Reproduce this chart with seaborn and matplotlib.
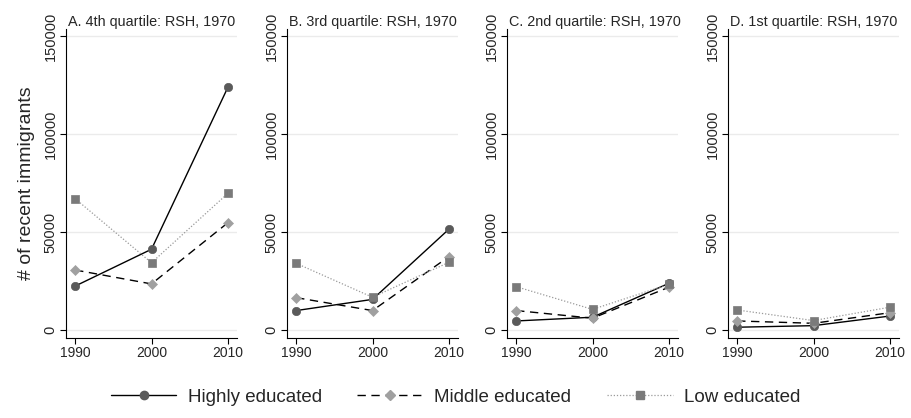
import matplotlib
matplotlib.use("Agg")
import matplotlib.pyplot as plt
import seaborn as sns
import pandas as pd
from matplotlib.lines import Line2D

sns.set_theme(style="white")
plt.rcParams['font.family'] = ['Liberation Sans', 'DejaVu Sans']

years = [1990, 2000, 2010]
panel_titles = ["A. 4th quartile: RSH, 1970", "B. 3rd quartile: RSH, 1970",
                "C. 2nd quartile: RSH, 1970", "D. 1st quartile: RSH, 1970"]
series_names = ["Highly educated", "Middle educated", "Low educated"]

highly = [[22400, 41200, 123800], [9900, 15600, 51400], [4600, 6500, 23800], [1400, 2200, 7100]]
middle = [[30600, 23500, 54700], [16500, 9900, 37400], [9900, 6000, 21800], [4600, 3400, 8800]]
low = [[67000, 34300, 69700], [34000, 16700, 34500], [22100, 10500, 23300], [10200, 4800, 11600]]

yticks = [0, 50000, 100000, 150000]
ytick_labels = ["0", "50000", "100000", "150000"]

styles = {
    "Highly educated": dict(color="black", linestyle="-", marker="o", mfc="#5a5a5a", mec="#5a5a5a", ms=6, lw=1.0),
    "Middle educated": dict(color="black", linestyle=(0, (6, 4)), marker="D", mfc="#a0a0a0", mec="#a0a0a0", ms=5.5, lw=1.0),
    "Low educated": dict(color="#9a9a9a", linestyle=(0, (1, 1.5)), marker="s", mfc="#7a7a7a", mec="#7a7a7a", ms=6, lw=0.9),
}

fig = plt.figure(figsize=(9.11, 4.18), dpi=100)
lefts = [66, 287, 507, 728]
W = 171 / 911
bottom = (418 - 338) / 418
height = (338 - 29) / 418

for i, left in enumerate(lefts):
    ax = fig.add_axes([left / 911, bottom, W, height])
    for name, vals in zip(series_names, [highly[i], middle[i], low[i]]):
        st = styles[name]
        df = pd.DataFrame({"year": years, "value": vals})
        sns.lineplot(data=df, x="year", y="value", ax=ax, color=st["color"],
                     linestyle=st["linestyle"], lw=st["lw"], marker=st["marker"],
                     markerfacecolor=st["mfc"], markeredgecolor=st["mec"],
                     markersize=st["ms"], markeredgewidth=0.5, legend=False)
    ax.set_xlim(1988.8, 2011.2)
    ax.set_ylim(-4100, 153600)
    ax.set_yticks(yticks)
    ax.set_yticklabels(ytick_labels, rotation=90, va="center", fontsize=10.5)
    ax.set_xticks(years)
    ax.set_xticklabels([str(y) for y in years], fontsize=10)
    for yv in yticks:
        ax.axhline(yv, color="#ebebeb", lw=1.0, zorder=0)
    ax.grid(False)
    for s in ["top", "right"]:
        ax.spines[s].set_visible(False)
    for s in ["left", "bottom"]:
        ax.spines[s].set_color("black")
        ax.spines[s].set_linewidth(0.8)
    ax.tick_params(axis="both", direction="out", length=4, width=0.8, color="black", pad=2, left=True, bottom=True)
    ax.set_xlabel("")
    ax.set_ylabel("# of recent immigrants" if i == 0 else "", fontsize=14, labelpad=6)
    ax.set_title(panel_titles[i], loc="left", fontsize=10.4, pad=2, x=0.01)
    ax.patch.set_alpha(0)

handles = []
for name in series_names:
    st = styles[name]
    handles.append(Line2D([0], [0], color=st["color"], linestyle=st["linestyle"], lw=st["lw"],
                          marker=st["marker"], markerfacecolor=st["mfc"], markeredgecolor=st["mec"],
                          markersize=st["ms"]))
fig.legend(handles, series_names, loc="center", bbox_to_anchor=(0.5, 0.05), ncol=3, frameon=False,
           fontsize=13.5, handlelength=3.5, columnspacing=1.9, handletextpad=0.6)

fig.savefig("out.png", dpi=100)
